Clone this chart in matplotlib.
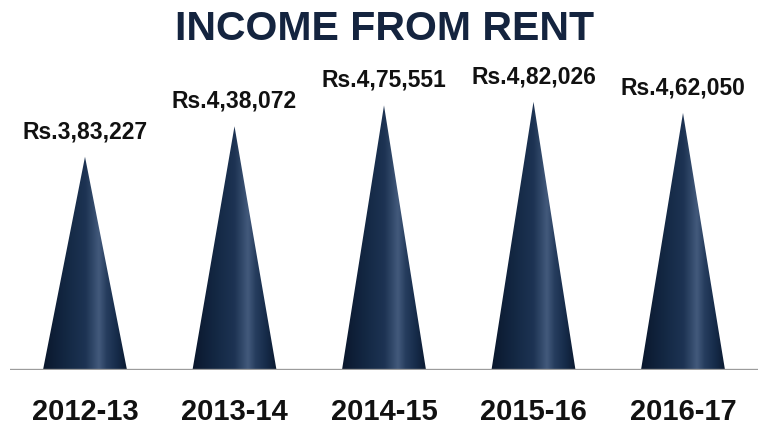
import numpy as np
import matplotlib.pyplot as plt
from matplotlib.patches import Polygon
from matplotlib.colors import LinearSegmentedColormap

years = ["2012-13", "2013-14", "2014-15", "2015-16", "2016-17"]
income = [383227, 438072, 475551, 482026, 462050]
labels = ["Rs.3,83,227", "Rs.4,38,072", "Rs.4,75,551", "Rs.4,82,026", "Rs.4,62,050"]

narrow = ['Liberation Sans Narrow', 'Liberation Sans', 'DejaVu Sans']

# horizontal shading across each cone, dark edges with a soft streak right of centre
cone_cmap = LinearSegmentedColormap.from_list("cone", [
    (0.00, "#0a172c"),
    (0.30, "#142945"),
    (0.50, "#1d3353"),
    (0.58, "#2f4667"),
    (0.66, "#435a7c"),
    (0.75, "#263d5e"),
    (0.88, "#152a48"),
    (1.00, "#0c1a30"),
])

fig = plt.figure(figsize=(7.59, 4.26), dpi=100)
ax = fig.add_axes([10.25 / 759, 56 / 426, 747.5 / 759, 370 / 426])
ax.set_xlim(-0.5, 4.5)
ax.set_ylim(0, 665000)

hw = 0.281
grad = np.linspace(0, 1, 256).reshape(1, -1)
for i, v in enumerate(income):
    tri = Polygon([(i - hw, 0), (i, v), (i + hw, 0)], closed=True,
                  facecolor='none', edgecolor='none')
    ax.add_patch(tri)
    im = ax.imshow(grad, cmap=cone_cmap, aspect='auto',
                   extent=[i - hw, i + hw, 0, v], interpolation='bicubic')
    im.set_clip_path(tri)
    ax.annotate(labels[i], (i, v), xytext=(0, 13.5), textcoords='offset points',
                ha='center', va='baseline', fontsize=16.5, fontweight='bold',
                family=narrow, color='#111111')

ax.axhline(0, color='#9c9c9c', lw=2.4, zorder=5)

ax.set_xticks(range(len(years)))
ax.set_xticklabels(years, fontsize=21, fontweight='bold', family=narrow, color='#111111')
ax.tick_params(axis='x', length=0, pad=20)
ax.set_yticks([])
for s in ax.spines.values():
    s.set_visible(False)
ax.patch.set_alpha(0)

fig.text(0.507, 0.933, "INCOME FROM RENT", ha='center', va='center',
         fontsize=29.5, fontweight='heavy', family=['Liberation Sans', 'DejaVu Sans'],
         color='#14243f')

fig.savefig("out.png", dpi=100)
